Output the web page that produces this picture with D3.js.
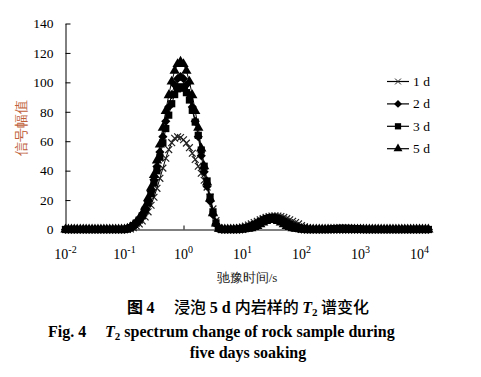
<!DOCTYPE html>
<html>
<head>
<meta charset="utf-8">
<script src="https://cdn.jsdelivr.net/npm/d3@7"></script>
<style>
  body { margin: 0; background: #fff; }
  svg text { font-family: "Liberation Serif", "Times New Roman", serif; }
</style>
</head>
<body>
<div id="chart"></div>
<script>
// T2 relaxation time grid (s), 20 points per decade
const t2 = [
  0.0100, 0.0112, 0.0126, 0.0141, 0.0158, 0.0178, 0.0200, 0.0224, 0.0251, 0.0282,
  0.0316, 0.0355, 0.0398, 0.0447, 0.0501, 0.0562, 0.0631, 0.0708, 0.0794, 0.0891,
  0.100, 0.112, 0.126, 0.141, 0.158, 0.178, 0.200, 0.224, 0.251, 0.282,
  0.316, 0.355, 0.398, 0.447, 0.501, 0.562, 0.631, 0.708, 0.794, 0.891,
  1.00, 1.12, 1.26, 1.41, 1.58, 1.78, 2.00, 2.24, 2.51, 2.82,
  3.16, 3.55, 3.98, 4.47, 5.01, 5.62, 6.31, 7.08, 7.94, 8.91,
  10.0, 11.2, 12.6, 14.1, 15.8, 17.8, 20.0, 22.4, 25.1, 28.2,
  31.6, 35.5, 39.8, 44.7, 50.1, 56.2, 63.1, 70.8, 79.4, 89.1,
  100, 112, 126, 141, 158, 178, 200, 224, 251, 282,
  316, 355, 398, 447, 501, 562, 631, 708, 794, 891,
  1000, 1122, 1259, 1413, 1585, 1778, 1995, 2239, 2512, 2818,
  3162, 3548, 3981, 4467, 5012, 5623, 6310, 7079, 7943, 8913,
  10000, 11220, 12589, 14125
];

// signal amplitude for each soaking time
const day1 = [
  0, 0, 0, 0, 0, 0, 0, 0, 0, 0, 0, 0, 0, 0, 0, 0, 0, 0, 0, 0,
  0, 0, 0.4, 1.2, 2.4, 3.8, 5.8, 8.5, 12.0, 16.5,
  21.9, 28.0, 34.8, 41.7, 48.4, 54.3, 59.0, 62.0, 63.0, 62.5,
  61.0, 58.7, 55.6, 51.8, 47.6, 43.0, 38.2, 33.5, 28.8, 22.0,
  14.0, 6.0, 1.0, 0, 0, 0, 0, 0.4, 0.8, 1.3,
  1.7, 2.3, 3.0, 3.8, 4.7, 5.6, 6.6, 7.4, 8.2, 8.8,
  9.2, 9.3, 9.2, 8.8, 8.2, 7.4, 6.6, 5.6, 4.7, 3.8,
  2.6, 1.8, 1.1, 0.6, 0.3, 0, 0, 0, 0, 0,
  0, 0, 0, 0, 0, 0, 0, 0, 0, 0, 0, 0, 0, 0, 0, 0, 0, 0, 0, 0,
  0, 0, 0, 0, 0, 0, 0, 0, 0, 0, 0, 0, 0, 0
];
const day2 = [
  0, 0, 0, 0, 0, 0, 0, 0, 0, 0, 0, 0, 0, 0, 0, 0, 0, 0, 0, 0,
  0, 0.4, 1.4, 2.7, 4.6, 6.8, 9.9, 14.0, 19.3, 25.9,
  33.8, 42.8, 52.6, 63.1, 73.5, 83.3, 91.7, 98.3, 102.5, 104,
  102.5, 98.3, 91.7, 83.3, 73.5, 63.1, 50.2, 39.2, 29.2, 19.2,
  10.0, 3.6, 0.5, 0, 0, 0, 0, 0, 0, 0,
  0.3, 0.6, 1.0, 1.6, 2.4, 3.4, 4.6, 5.7, 6.6, 7.3,
  7.5, 7.3, 6.6, 5.7, 4.6, 3.4, 2.4, 1.6, 1.0, 0.6,
  0.3, 0, 0, 0, 0, 0, 0, 0, 0, 0,
  0, 0, 0, 0, 0, 0, 0, 0, 0, 0, 0, 0, 0, 0, 0, 0, 0, 0, 0, 0,
  0, 0, 0, 0, 0, 0, 0, 0, 0, 0, 0, 0, 0, 0
];
const day3 = [
  0, 0, 0, 0, 0, 0, 0, 0, 0, 0, 0, 0, 0, 0, 0, 0, 0, 0, 0, 0,
  0, 0.4, 1.3, 2.6, 4.3, 6.4, 9.3, 13.1, 18.0, 24.2,
  31.6, 39.9, 49.1, 58.9, 68.6, 77.7, 85.5, 91.7, 95.6, 97,
  96, 93, 88, 81, 73, 64, 54, 43, 33, 22,
  12, 4.5, 0.8, 0, 0, 0, 0, 0, 0, 0.4,
  0.7, 1.1, 1.7, 2.4, 3.4, 4.4, 5.5, 6.6, 7.4, 8.0,
  8.2, 8.0, 7.4, 6.6, 5.5, 4.4, 3.4, 2.4, 1.7, 1.1,
  0.7, 0.4, 0, 0, 0, 0, 0, 0, 0, 0,
  0.4, 0.6, 0.7, 0.8, 0.8, 0.8, 0.7, 0.7, 0.6, 0.5,
  0.3, 0, 0, 0, 0, 0, 0, 0, 0, 0,
  0, 0, 0, 0, 0, 0, 0, 0, 0, 0, 0, 0, 0, 0
];
const day5 = [
  0, 0, 0, 0, 0, 0, 0, 0, 0, 0, 0, 0, 0, 0, 0, 0, 0, 0, 0, 0,
  0, 0.5, 1.5, 3.0, 5.0, 7.5, 10.9, 15.4, 21.2, 28.4,
  37.1, 46.9, 57.7, 69.2, 80.6, 91.3, 100.5, 107.8, 112.4, 114,
  112.4, 107.8, 100.5, 91.3, 80.6, 69.2, 55, 43, 32, 21,
  11, 4, 0.5, 0, 0, 0, 0, 0, 0, 0,
  0, 0.25, 0.5, 0.9, 1.6, 2.4, 3.5, 4.7, 5.8, 6.5,
  6.8, 6.5, 5.8, 4.7, 3.5, 2.4, 1.6, 0.9, 0.5, 0.25,
  0, 0, 0, 0, 0, 0, 0, 0, 0, 0,
  0, 0, 0, 0, 0, 0, 0, 0, 0, 0, 0, 0, 0, 0, 0, 0, 0, 0, 0, 0,
  0, 0, 0, 0, 0, 0, 0, 0, 0, 0, 0, 0, 0, 0
];

const seriesNames = ["1 d", "2 d", "3 d", "5 d"];
const yTicks = [0, 20, 40, 60, 80, 100, 120, 140];
const xTickExps = [-2, -1, 0, 1, 2, 3, 4];

const width = 481, height = 377;

const svg = d3.select("#chart")
  .append("svg")
  .attr("width", width)
  .attr("height", height);

const x = d3.scaleLog().domain([0.01, 10000]).range([65.5, 419.5]);
const y = d3.scaleLinear().domain([0, 140]).range([229.5, 23.5]);

// marker look per series (x, diamond, square, triangle)
const looks = [
  { sym: d3.symbolTimes, size: 32, rot: 0, filled: false },
  { sym: d3.symbolSquare, size: 42, rot: 45, filled: true },
  { sym: d3.symbolSquare, size: 52, rot: 0, filled: true },
  { sym: d3.symbolTriangle, size: 46, rot: 0, filled: true }
];
const allSeries = [day1, day2, day3, day5];

// axes
svg.append("g")
  .attr("transform", "translate(65.5,0)")
  .call(d3.axisLeft(y).tickValues(yTicks).tickSizeInner(-5).tickSizeOuter(0).tickPadding(12))
  .call(g => g.selectAll("text").attr("font-size", 13.5).attr("fill", "#000")
    .attr("font-family", "Liberation Serif"))
  .call(g => g.selectAll("path,line").attr("stroke", "#000"));

svg.append("g")
  .attr("transform", "translate(0,229.5)")
  .call(d3.axisBottom(x).tickValues(xTickExps.map(e => Math.pow(10, e)))
    .tickSizeInner(-4).tickSizeOuter(0).tickFormat(""))
  .call(g => g.selectAll("path,line").attr("stroke", "#000"));

// x tick labels as 10^n
const xl = svg.append("g");
xTickExps.forEach(e => {
  const t = xl.append("text")
    .attr("x", x(Math.pow(10, e)))
    .attr("y", 259)
    .attr("text-anchor", "middle")
    .attr("font-size", 14)
    .attr("fill", "#000");
  t.append("tspan").text("10");
  t.append("tspan").attr("dy", -6).attr("font-size", 10).text(e < 0 ? "-" + (-e) : e);
});

// series lines + markers
const line = d3.line()
  .x((d, i) => x(t2[i]))
  .y(d => y(d));

allSeries.forEach((vals, k) => {
  const lk = looks[k];
  const g = svg.append("g");
  g.append("path")
    .attr("d", line(vals))
    .attr("fill", "none")
    .attr("stroke", "#000")
    .attr("stroke-width", 1);
  g.selectAll("path.m")
    .data(vals)
    .join("path")
    .attr("class", "m")
    .attr("d", d3.symbol(lk.sym, lk.size))
    .attr("transform", (d, i) => `translate(${x(t2[i])},${y(d)}) rotate(${lk.rot})`)
    .attr("fill", lk.filled ? "#000" : "none")
    .attr("stroke", lk.filled ? "none" : "#222")
    .attr("stroke-width", 1.2);
});

// legend
const leg = svg.append("g");
seriesNames.forEach((name, k) => {
  const lk = looks[k];
  const ly = 81.5 + k * 22.4;
  leg.append("line")
    .attr("x1", 387).attr("x2", 409)
    .attr("y1", ly).attr("y2", ly)
    .attr("stroke", "#000").attr("stroke-width", 1.2);
  leg.append("path")
    .attr("d", d3.symbol(lk.sym, lk.size * 0.75))
    .attr("transform", `translate(398,${ly}) rotate(${lk.rot})`)
    .attr("fill", lk.filled ? "#000" : "none")
    .attr("stroke", lk.filled ? "none" : "#222");
  leg.append("text")
    .attr("x", 413).attr("y", ly + 4.5)
    .attr("font-size", 13.5)
    .attr("fill", "#000")
    .text(name);
});

// axis titles
svg.append("text")
  .attr("transform", "translate(26,128) rotate(-90)")
  .attr("text-anchor", "middle")
  .attr("font-family", "Noto Sans CJK SC")
  .attr("font-size", 14)
  .attr("fill", "#c0603a")
  .text("信号幅值");

svg.append("text")
  .attr("x", 247).attr("y", 282)
  .attr("text-anchor", "middle")
  .attr("font-family", "Noto Sans CJK SC")
  .attr("font-size", 13)
  .attr("fill", "#222")
  .text("驰豫时间/s");

// caption
const cap1 = svg.append("text")
  .attr("x", 248).attr("y", 313)
  .attr("text-anchor", "middle")
  .attr("font-size", 16)
  .attr("fill", "#000");
cap1.append("tspan").attr("font-family", "Noto Sans CJK SC").attr("font-weight", 700).text("图 ");
cap1.append("tspan").attr("font-weight", 700).text("4");
cap1.append("tspan").attr("font-family", "Noto Sans CJK SC").attr("font-weight", 500).text("\u3000 浸泡 ");
cap1.append("tspan").attr("font-weight", 700).text("5 d ");
cap1.append("tspan").attr("font-family", "Noto Sans CJK SC").attr("font-weight", 500).text("内岩样的 ");
cap1.append("tspan").attr("font-weight", 700).attr("font-style", "italic").text("T");
cap1.append("tspan").attr("font-weight", 700).attr("font-size", 11).attr("dy", 3).text("2");
cap1.append("tspan").attr("font-family", "Noto Sans CJK SC").attr("font-weight", 500).attr("dy", -3).text(" 谱变化");

const cap2 = svg.append("text")
  .attr("x", 48).attr("y", 337)
  .attr("font-size", 16)
  .attr("font-weight", 700)
  .attr("fill", "#000");
cap2.append("tspan").text("Fig. 4");
cap2.append("tspan").attr("x", 105).attr("font-style", "italic").text("T");
cap2.append("tspan").attr("font-size", 11).attr("dy", 3).text("2");
cap2.append("tspan").attr("dy", -3).text(" spectrum change of rock sample during");

svg.append("text")
  .attr("x", 248).attr("y", 358)
  .attr("text-anchor", "middle")
  .attr("font-size", 16)
  .attr("font-weight", 700)
  .attr("fill", "#000")
  .text("five days soaking");
</script>
</body>
</html>
